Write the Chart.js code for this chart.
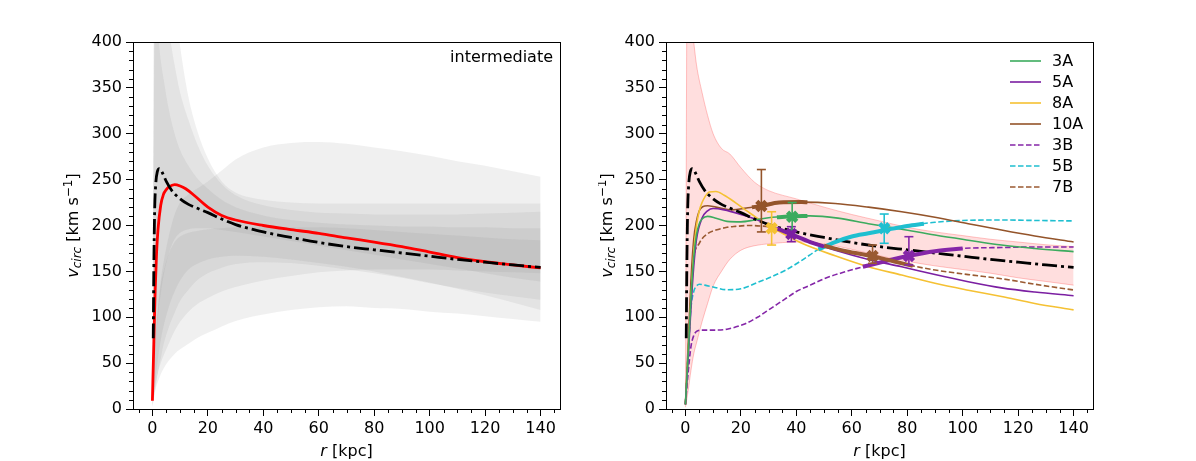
<!DOCTYPE html>
<html>
<head>
<meta charset="utf-8">
<script src="https://cdn.jsdelivr.net/npm/chart.js@4.4.1/dist/chart.umd.min.js"></script>
<style>
html,body{margin:0;padding:0;background:#fff;}
#wrap{position:relative;width:1196px;height:461px;overflow:hidden;}
canvas{position:absolute;top:0;}
#c1{left:0;} #c2{left:598px;}
</style>
</head>
<body>
<div id="wrap">
<canvas id="c1" width="598" height="461"></canvas>
<canvas id="c2" width="598" height="461"></canvas>
</div>
<script>
// ---------- axis ticks ----------
const xTicks = [0,20,40,60,80,100,120,140];
const yTicks = [0,50,100,150,200,250,300,350,400];
const panelLabel = 'intermediate';

// ---------- reference curve (black dash-dot), both panels ----------
const refR = [0.3,0.5,0.8,1.2,1.8,2.5,3.5,5,7,10,13,16,20,25,30,40,50,60,70,80,90,100,110,120,130,140];
const refV = [77,150,215,245,259,262,258,248,238,229,223,219,214,207,201,193,187,181.5,177,173.5,170,166.5,163,160,157,154.4];

// ---------- left panel: red fit ----------
const redR = [0,0.5,1,1.5,2,3,4,5,6,8,10,12,15,20,25,30,40,50,60,70,80,90,100,110,120,130,140];
const redV = [9,70,130,170,195,222,234,239,242,244.5,243,240,233,220,211,206,200,195.5,191.5,186.5,182,177,171,165,160.5,157,153.7];

// ---------- left panel: grey bands (shared radius grid) ----------
const bandR = [0,1,2,3,4,6,8,10,13,16,20,25,30,40,50,60,70,80,90,100,110,120,130,140];
const inc1Hi = [5,60,110,140,160,190,212,225,234,240,248,260,272,285,290,291,289,285,281,276,270,265,259,253];
const inc1Lo = [3,20,30,38,44,53,60,65,71,77,83,90,96,103,108,111,112,110,109,106,104,101,98,95];
const dec1Hi = [5,700,650,600,560,500,445,395,340,305,273,248,236,228,225,224,224,224,224,224,224,224,224,224];
const dec1Lo = [2,20,40,55,70,90,105,118,130,140,148,154,158,160,159,156,152,148,143,137,132,127,123,119];
const dec2Hi = [5,600,520,470,440,410,375,345,315,290,265,245,233,222,217,214,213,212,212,212,212,213,214,215];
const dec2Lo = [2,30,55,75,90,112,128,140,152,158,163,166,167,166,163,159,155,150,144,138,131,124,116,108];
const dec3Hi = [5,450,410,380,360,325,300,282,265,252,240,228,220,211,206,203,201,200,199,199,198,198,197,197];
const dec3Lo = [2,60,100,125,145,170,185,192,196,197,197,195,193,188,183,178,173,168,163,158,153,148,143,139];
const inc2Hi = [5,70,110,135,150,170,182,188,192,194,196,197,198,198,198,198,197,195,193,191,189,187,185,184];
const inc2Lo = [3,25,40,50,58,72,85,95,106,114,121,128,133,140,145,149,151,152,152,152,151,150,149,148];

// ---------- right panel: pink band ----------
const pinkHi = [5,700,440,400,375,345,320,300,284,278,263,247,238,229,220,212,205,198,193,189,185,182,179,177];
const pinkLo = [2,20,42,60,72,95,115,134,150,163,173,178,180,182,180,174,167,161,156,152,148,143,139,135];

// ---------- right panel: tracks ----------
const seriesNames = ['3A','5A','8A','10A','3B','5B','7B'];
const seriesColors = ['#3cab5e','#7b1fa2','#f5c133','#94542a','#8526a8','#1fbfd0','#9a5a32'];
const seriesDashed = [false,false,false,false,true,true,true];

const r3A = [0,1,2,3,4,5,6,8,11,15,20,25,30,38.5,45,55,66,78,90,102,114,126,140];
const v3A = [5,60,120,165,190,202,207,210,208,204.5,204,206,208.5,210,210.5,208,202,196,189.6,184,178.7,175,171.5];
const r5A = [0,1,2,3,4,6,8,10,14,20,26,32,38.5,45,54,66,78,90,102,114,126,140];
const v5A = [5,55,110,155,185,208,216,218.5,217,212,206,198,190,182,173,163,155,146.5,138.7,132,127.5,123.5];
const r8A = [0,1,2,3,4,5,6,7,8.6,11,14,18,21.6,25,28.8,31,36,42,54,66,78,90,102,114,126,140];
const v8A = [5,60,120,170,200,216,225,231,236.5,237,233,225,217,210,202,198,190,180.6,167,155,146,137,129.5,122.6,115,108];
const r10A = [0,1,2,3,4,5,6.2,8,11,17,22,27.4,33.8,42,54,66,78,90,102,114,126,140];
const v10A = [5,70,140,185,205,216,220.5,221.5,220,217,219,221.3,225,225.5,224,220,215,209,202,195,188.5,182];
const r3B = [0,1,2,3,4,6,10,15,21.6,26,31,36,40,45,50,57,64,72,80.6,90,100,114,126,140];
const v3B = [5,40,68,80,84.5,86,86,87,93,100,110,120,128,135,142,149,155,161,167,172,175,176,176.5,176.5];
const r5B = [0,1,2,3,4,5,7,10,15,20,26.6,31,36.2,42,48,54,60,66,72,80,90,100,114,126,140];
const v5B = [5,60,110,128,134,136,135,133,130,131,138.7,144,151.5,162,174,182,188,191.5,195,199.5,203.5,205.5,206,205.5,205];
const r7B = [0,1,2.6,5,8,11,15,18,23,27,30,36,42,50,58,67.5,75,82,90,102,114,126,140];
const v7B = [5,60,155,180.6,191,195,198,199,200,199.5,198.7,193,186,178,172,166.5,161,156,151.5,146.5,142,136,129.7];

// ---------- measured points (marker, error bar low/high) on tracks ----------
const ptNames = ['10A','8A','3A','5A','7B','5B','3B'];
const ptR = [27.4,31.1,38.5,38.2,67.5,71.7,80.6];
const ptV = [221.3,197,209.6,190.7,166.8,197,166.8];
const ptLo = [193,178.7,195,182.4,158.8,180.6,157];
const ptHi = [261,215,225,198.7,178.7,212.5,187.8];
// thick highlighted segments of each track (radius ranges)
const segFrom = [24,29.5,33,33,50,48,64];
const segTo = [44,33,44,50,82,86,100];

// ---------- helpers ----------
const FONT = "'DejaVu Sans', sans-serif";
const FS = 16;
const pts = (xs, ys) => xs.map((x, i) => ({x: x, y: ys[i]}));
const trackMap = {'3A':[r3A,v3A],'5A':[r5A,v5A],'8A':[r8A,v8A],'10A':[r10A,v10A],'3B':[r3B,v3B],'5B':[r5B,v5B],'7B':[r7B,v7B]};
function segment(name, a, b) {
  const [rs, vs] = trackMap[name];
  const out = [];
  const interp = (x) => { for (let i = 1; i < rs.length; i++) { if (x <= rs[i]) { const t = (x - rs[i-1]) / (rs[i] - rs[i-1]); return vs[i-1] + t * (vs[i] - vs[i-1]); } } return vs[vs.length-1]; };
  out.push({x: a, y: interp(a)});
  rs.forEach((x, i) => { if (x > a && x < b) out.push({x: x, y: vs[i]}); });
  out.push({x: b, y: interp(b)});
  return out;
}
const refDash = [15, 4, 3, 4];
const lineDash = [5.5, 2.5];

function bandPair(hi, lo, fillColor, edgeColor) {
  return [
    {data: pts(bandR, hi), borderColor: edgeColor, borderWidth: edgeColor === 'transparent' ? 0 : 1, backgroundColor: fillColor, fill: '+1', pointRadius: 0, cubicInterpolationMode: 'monotone'},
    {data: pts(bandR, lo), borderColor: edgeColor, borderWidth: edgeColor === 'transparent' ? 0 : 1, fill: false, pointRadius: 0, cubicInterpolationMode: 'monotone'}
  ];
}

// ---------- plugins ----------
const frame = {
  id: 'frame',
  afterDraw(chart, args, opts) {
    const {ctx, chartArea: a, scales} = chart;
    ctx.save();
    ctx.strokeStyle = '#000'; ctx.lineWidth = 1;
    ctx.strokeRect(Math.round(a.left) + 0.5, Math.round(a.top) + 0.5, Math.round(a.right - a.left), Math.round(a.bottom - a.top));
    // minor ticks
    ctx.beginPath();
    for (let v = 0; v <= 400; v += 10) {
      if (v % 50 === 0) continue;
      const y = Math.round(scales.y.getPixelForValue(v)) + 0.5;
      ctx.moveTo(a.left, y); ctx.lineTo(a.left - 4, y);
    }
    for (let v = -5; v <= 145; v += 5) {
      if (v % 20 === 0) continue;
      const x = Math.round(scales.x.getPixelForValue(v)) + 0.5;
      ctx.moveTo(x, a.bottom); ctx.lineTo(x, a.bottom + 4);
    }
    ctx.stroke();
    // axis titles
    ctx.fillStyle = '#000';
    ctx.textBaseline = 'alphabetic';
    const cx = (a.left + a.right) / 2;
    ctx.font = 'italic ' + FS + 'px ' + FONT;
    const w1 = ctx.measureText('r').width;
    ctx.font = FS + 'px ' + FONT;
    const w2 = ctx.measureText(' [kpc]').width;
    let x0 = cx - (w1 + w2) / 2;
    ctx.font = 'italic ' + FS + 'px ' + FONT; ctx.textAlign = 'left';
    ctx.fillText('r', x0, 456);
    ctx.font = FS + 'px ' + FONT;
    ctx.fillText(' [kpc]', x0 + w1, 456);
    // y title rotated
    const parts = [
      {t: 'v', f: 'italic ' + FS + 'px ' + FONT, dy: 0},
      {t: 'circ', f: 'italic 12px ' + FONT, dy: 3},
      {t: ' [km s', f: FS + 'px ' + FONT, dy: 0},
      {t: '\u22121', f: '12px ' + FONT, dy: -6},
      {t: ']', f: FS + 'px ' + FONT, dy: 0}
    ];
    let tw = 0;
    parts.forEach(p => { ctx.font = p.f; p.w = ctx.measureText(p.t).width; tw += p.w; });
    ctx.translate(opts.titleX, (a.top + a.bottom) / 2);
    ctx.rotate(-Math.PI / 2);
    let px = -tw / 2;
    parts.forEach(p => { ctx.font = p.f; ctx.fillText(p.t, px, 5 + p.dy); px += p.w; });
    ctx.restore();
  }
};

const cornerText = {
  id: 'cornerText',
  afterDraw(chart, args, opts) {
    if (!opts.text) return;
    const {ctx, chartArea: a} = chart;
    ctx.save();
    ctx.font = FS + 'px ' + FONT; ctx.fillStyle = '#000';
    ctx.textAlign = 'right'; ctx.textBaseline = 'alphabetic';
    ctx.fillText(opts.text, a.right - 7, 62);
    ctx.restore();
  }
};

const legendBox = {
  id: 'legendBox',
  afterDraw(chart, args, opts) {
    if (!opts.show) return;
    const {ctx, chartArea: a} = chart;
    ctx.save();
    ctx.font = FS + 'px ' + FONT; ctx.textAlign = 'left'; ctx.textBaseline = 'middle';
    seriesNames.forEach((n, i) => {
      const y = 61 + i * 21;
      ctx.strokeStyle = seriesColors[i]; ctx.lineWidth = 1.6;
      ctx.setLineDash(seriesDashed[i] ? lineDash : []);
      ctx.beginPath(); ctx.moveTo(a.right - 83, y); ctx.lineTo(a.right - 52, y); ctx.stroke();
      ctx.fillStyle = '#000';
      ctx.fillText(n, a.right - 41, y + 1);
    });
    ctx.restore();
  }
};

function makeOptions(yWidth, padRight, titleX, text, showLegend) {
  const tickFont = {family: FONT, size: FS};
  return {
    responsive: false, animation: false, devicePixelRatio: 1,
    layout: {padding: {top: 42, right: padRight, left: 0, bottom: 0}},
    plugins: {
      legend: {display: false}, tooltip: {enabled: false},
      frame: {titleX: titleX}, cornerText: {text: text}, legendBox: {show: showLegend}
    },
    scales: {
      x: {
        type: 'linear', min: -7, max: 147,
        afterBuildTicks: s => { s.ticks = xTicks.map(v => ({value: v})); },
        afterFit: s => { s.height = 52; },
        grid: {drawOnChartArea: false, tickLength: 7, color: '#000', tickColor: '#000', tickWidth: 1},
        border: {display: true, color: '#000', width: 1},
        ticks: {font: tickFont, color: '#000', padding: 3, maxRotation: 0, autoSkip: false}
      },
      y: {
        type: 'linear', min: 0, max: 400,
        afterBuildTicks: s => { s.ticks = yTicks.map(v => ({value: v})); },
        afterFit: s => { s.width = yWidth; },
        grid: {drawOnChartArea: false, tickLength: 7, color: '#000', tickColor: '#000', tickWidth: 1},
        border: {display: true, color: '#000', width: 1},
        ticks: {font: tickFont, color: '#000', padding: 4, autoSkip: false}
      }
    }
  };
}

// ---------- left chart ----------
const grey = 'rgba(128,128,128,0.12)';
const leftDatasets = [
  {label: 'reference', data: pts(refR, refV), borderColor: '#000', borderWidth: 2.8, borderDash: refDash, pointRadius: 0, fill: false, cubicInterpolationMode: 'monotone'},
  {label: 'intermediate', data: pts(redR, redV), borderColor: '#ff0000', borderWidth: 2.8, pointRadius: 0, fill: false, cubicInterpolationMode: 'monotone'},
  ...bandPair(inc1Hi, inc1Lo, grey, 'transparent'),
  ...bandPair(dec1Hi, dec1Lo, grey, 'transparent'),
  ...bandPair(dec2Hi, dec2Lo, grey, 'transparent'),
  ...bandPair(dec3Hi, dec3Lo, grey, 'transparent'),
  ...bandPair(inc2Hi, inc2Lo, grey, 'transparent')
];
new Chart(document.getElementById('c1'), {
  type: 'line',
  data: {datasets: leftDatasets},
  options: makeOptions(133, 38, 73, panelLabel, false),
  plugins: [frame, cornerText, legendBox]
});

// ---------- right chart ----------
const colorOf = n => seriesColors[seriesNames.indexOf(n)];
const markerSets = ptNames.map((n, i) => ({
  data: [{x: ptR[i], y: ptV[i]}], showLine: false, pointStyle: 'crossRot', pointRadius: 6.5,
  pointBorderWidth: 4.5, pointBorderColor: colorOf(n), pointBackgroundColor: colorOf(n), borderColor: colorOf(n)
}));
const errSets = ptNames.map((n, i) => ({
  data: [{x: ptR[i], y: ptLo[i]}, {x: ptR[i], y: ptHi[i]}], borderColor: colorOf(n), borderWidth: 1.6,
  pointStyle: 'line', pointRadius: 4.5, pointBorderWidth: 1.6, pointBorderColor: colorOf(n), fill: false
}));
const thickSets = ptNames.map((n, i) => ({
  data: segment(n, segFrom[i], segTo[i]), borderColor: colorOf(n), borderWidth: 4, pointRadius: 0, fill: false, cubicInterpolationMode: 'monotone'
}));
const trackSets = seriesNames.map((n, i) => ({
  label: n, data: pts(trackMap[n][0], trackMap[n][1]), borderColor: seriesColors[i], borderWidth: 1.6,
  borderDash: seriesDashed[i] ? lineDash : [], pointRadius: 0, fill: false, cubicInterpolationMode: 'monotone'
}));
const rightDatasets = [
  ...markerSets,
  ...errSets,
  ...thickSets,
  {label: 'reference', data: pts(refR, refV), borderColor: '#000', borderWidth: 2.8, borderDash: refDash, pointRadius: 0, fill: false, cubicInterpolationMode: 'monotone'},
  ...trackSets,
  ...bandPair(pinkHi, pinkLo, 'rgba(255,0,0,0.13)', 'rgba(255,90,90,0.35)')
];
new Chart(document.getElementById('c2'), {
  type: 'line',
  data: {datasets: rightDatasets},
  options: makeOptions(68, 103, 9, '', true),
  plugins: [frame, cornerText, legendBox]
});
</script>
</body>
</html>
